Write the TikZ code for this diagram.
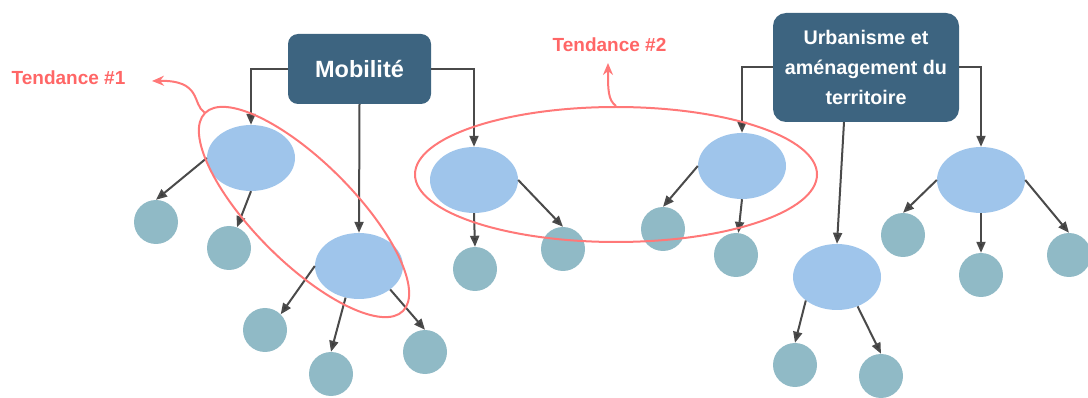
\documentclass[tikz,border=0pt]{standalone}
\usepackage{fontspec}
\setmainfont{Liberation Sans}
\usetikzlibrary{shapes.geometric,arrows.meta}
\definecolor{boxc}{HTML}{3D6480}
\definecolor{ellc}{HTML}{9FC5EB}
\definecolor{circc}{HTML}{90BAC6}
\definecolor{redl}{HTML}{FF7878}
\definecolor{redt}{HTML}{FF6666}
\definecolor{linec}{HTML}{4A4A4A}
\begin{document}
\begin{tikzpicture}[x=1pt,y=-1pt,
  topic/.style={rectangle, rounded corners=10pt, fill=boxc, text=white, inner sep=0pt, align=center},
  sub/.style={ellipse, fill=ellc, minimum width=88pt, minimum height=66pt, inner sep=0pt},
  leaf/.style={circle, fill=circc, minimum size=44pt, inner sep=0pt},
  link/.style={draw=linec, line width=2pt, -{Triangle[length=11pt,width=9pt,fill=linec!80!black]}},
  trend/.style={draw=redl, line width=2pt},
  trendarrow/.style={trend, -{Stealth[length=12pt,width=10pt,fill=redl]}},
  trendlabel/.style={text=redt, font=\fontsize{19}{22}\selectfont\bfseries, inner sep=0pt}]
\useasboundingbox (0,0) rectangle (1088,398);

% topics
\node[topic, minimum width=143pt, minimum height=70pt, font=\fontsize{23.5}{28}\selectfont\bfseries] (M) at (359.5,69) {Mobilité};
\node[topic, minimum width=186pt, minimum height=109pt, rounded corners=13pt, font=\fontsize{19.7}{30}\selectfont\bfseries] (U) at (866,67.5) {Urbanisme et\\aménagement du\\territoire};

% sub-topics
\node[sub] (E1) at (251,158) {};
\node[sub] (E2) at (359,266) {};
\node[sub] (E3) at (474,180) {};
\node[sub] (E4) at (742,166) {};
\node[sub] (E5) at (981,180) {};
\node[sub] (E6) at (837,277) {};

% leaves
\node[leaf] (C1) at (156,222) {};
\node[leaf] (C2) at (229,248) {};
\node[leaf] (C3) at (265,330) {};
\node[leaf] (C4) at (331,374) {};
\node[leaf] (C5) at (425,352) {};
\node[leaf] (C6) at (475,269) {};
\node[leaf] (C7) at (563,249) {};
\node[leaf] (C8) at (663,229) {};
\node[leaf] (C9) at (736,255) {};
\node[leaf] (C10) at (903,235) {};
\node[leaf] (C11) at (981,275) {};
\node[leaf] (C12) at (1069,255) {};
\node[leaf] (C13) at (795,365) {};
\node[leaf] (C14) at (881,376) {};

% topic connectors
\draw[link] (M.west) -| (E1.north);
\draw[link] (M.east) -| (E3.north);
\draw[link] (M.south) -- (E2.north);
\draw[link] (U.west) -| (E4.north);
\draw[link] (U.east) -| (E5.north);
\draw[link] ([xshift=-22pt]U.south) -- (E6.north);

% leaf connectors
\draw[link] (E1.west) -- (C1.north);
\draw[link] (E1.south) -- (C2);
\draw[link] (E2.west) -- (C3.north east);
\draw[link] (E2.247) -- (C4.north);
\draw[link] (E2.323) -- (C5.north);
\draw[link] (E3.south) -- (C6.north);
\draw[link] (E3.east) -- (C7.north);
\draw[link] (E4.west) -- (C8.north);
\draw[link] (E4.south) -- (C9);
\draw[link] (E5.west) -- (C10.north);
\draw[link] (E5.south) -- (C11.north);
\draw[link] (E5.east) -- (C12.north);
\draw[link] (E6.217) -- (C13.north);
\draw[link] (E6.305) -- (C14.north);

% trends
\node[trend, ellipse, minimum width=280pt, minimum height=100pt, rotate=-45, inner sep=0pt] (R1) at (304,212) {};
\node[trend, ellipse, minimum width=402pt, minimum height=135pt, inner sep=0pt] (R2) at (616,174.5) {};

\node[trendlabel] (T1) at (68.5,78) {Tendance \#1};
\node[trendlabel] (T2) at (609.5,45) {Tendance \#2};
\coordinate (T1tip) at (152,81);
\coordinate (T2tip) at (608,63);

\draw[trendarrow] (R1.west) .. controls (192,104) and (202,80) .. (T1tip);
\draw[trendarrow] (R2.north) .. controls (608,100) and (608,90) .. (T2tip);
\end{tikzpicture}
\end{document}
